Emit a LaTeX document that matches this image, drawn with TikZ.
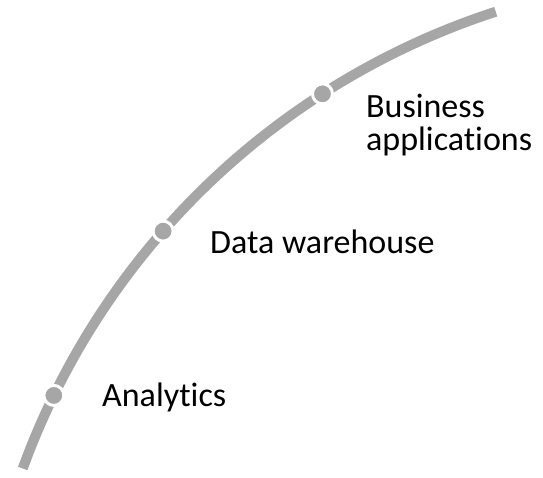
\documentclass[tikz,border=0pt]{standalone}
\usepackage{fontspec}
\setmainfont[Ligatures=NoCommon]{Carlito}
\definecolor{curvegray}{HTML}{A6A6A6}
\tikzset{
  curveline/.style={draw=curvegray, line width=10pt},
  dotmark/.style={circle, fill=curvegray, draw=white, line width=3pt, minimum size=20pt, inner sep=0pt},
  lbl/.style={anchor=base west, font=\fontsize{34}{33}\selectfont, inner sep=0pt, align=left}
}
\begin{document}
\begin{tikzpicture}[x=1pt,y=-1pt]
\useasboundingbox (0,0) rectangle (543,477);
\coordinate (c) at (727.5,725);
\draw[curveline] ([shift={(200:750)}]c) arc[start angle=200, end angle=252, radius=750];
\node[dotmark] (d1) at ([shift={(206.07:750)}]c) {};
\node[dotmark] (d2) at ([shift={(221.19:750)}]c) {};
\node[dotmark] (d3) at ([shift={(237.31:750)}]c) {};
\node[lbl] (l1) at (102,406) {Analytics};
\node[lbl] (l2) at (210,253) {Data warehouse};
\node[lbl] (l3) at (366,150) {Business\\applications};
\end{tikzpicture}
\end{document}
